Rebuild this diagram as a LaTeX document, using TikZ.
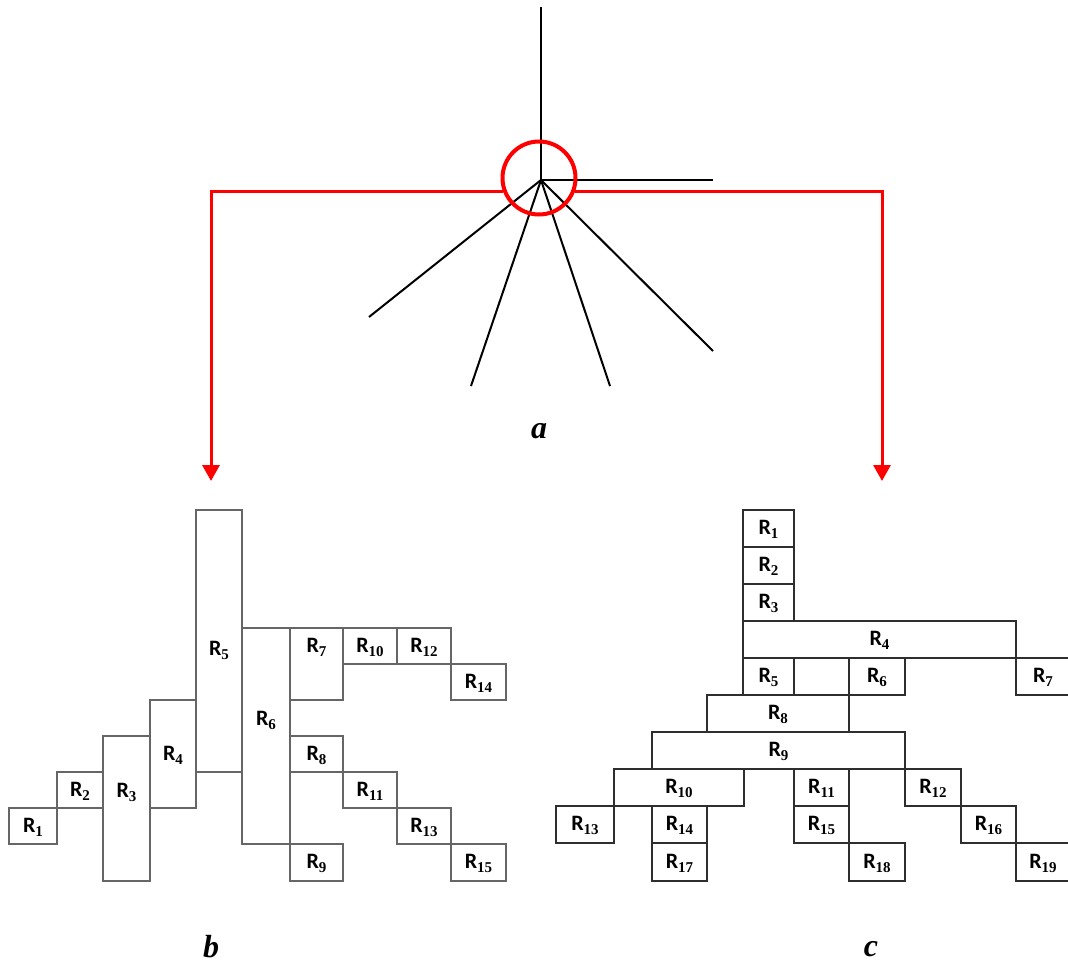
\documentclass[tikz,border=0pt]{standalone}
\usepackage{fontspec}
\setmainfont{Liberation Serif}
\newfontfamily\rfont{Carlito}
\usetikzlibrary{arrows.meta}
% region label: sans R with a serif subscript
\newcommand\rlab[1]{{\rfont\bfseries\fontsize{22}{22}\selectfont R}\raisebox{-4pt}{\bfseries\fontsize{15}{15}\selectfont #1}}
\begin{document}
\begin{tikzpicture}[x=1pt,y=-1pt,
  bline/.style={draw=black!60, line width=1.4pt},
  cline/.style={draw=black!82, line width=1.15pt},
  ray/.style={draw=black, line width=2pt},
  feed/.style={draw=red, line width=3pt, -{Triangle[length=16pt,width=17pt]}},
  lab/.style={inner sep=0pt},
  tag/.style={font=\fontsize{32}{32}\selectfont\bfseries\itshape, anchor=base, inner sep=0pt}]

\useasboundingbox (0,0) rectangle (1068,963);

% ---- star of branches ----
\coordinate (o) at (541,180);
\coordinate (r1) at (541,7);
\coordinate (r2) at (713,180);
\coordinate (r3) at (369,317);
\coordinate (r4) at (471,386);
\coordinate (r5) at (610,386);
\coordinate (r6) at (713,351);
\foreach \r in {r1,r2,r3,r4,r5,r6} \draw[ray] (o) -- (\r);

\node[draw=red, line width=4pt, circle, minimum size=73pt, inner sep=0pt] (hub) at (539,178) {};
\coordinate (tb) at (211,481);
\coordinate (tc) at (882,481);
\draw[feed] (hub.201) -| (tb);
\draw[feed] (hub.339) -| (tc);

\node[tag] (ta) at (539,438) {a};

% ---- layout b ----
\foreach \n/\xa/\ya/\xb/\yb/\lx/\ly in {
  1/9/808/57/844/33/827,
  2/57/772/103/808/80/791,
  3/103/736/150/881/126.5/792,
  4/150/700/196/808/173/755,
  5/196/510/242/772/219/650,
  6/242/628/290/844/266/720,
  7/290/628/343/700/316.5/647,
  10/343/628/397/664/370/647,
  12/397/628/451/664/424/647,
  14/451/664/506/700/478.5/683,
  8/290/736/343/772/316.5/755,
  11/343/772/397/808/370/791,
  13/397/808/451/844/424/827,
  15/451/844/506/881/478.5/863,
  9/290/844/343/881/316.5/863}
{
  \draw[bline] (\xa,\ya) rectangle (\xb,\yb);
  \node[lab] (b\n) at (\lx,\ly) {\rlab{\n}};
}
\node[tag] (tbl) at (211,957) {b};

% ---- layout c ----
\foreach \n/\xa/\ya/\xb/\yb in {
  1/743/510/794/547,
  2/743/547/794/584,
  3/743/584/794/621,
  4/743/621/1016/658,
  5/743/658/794/695,
  6/849/658/905/695,
  7/1016/658/1070/695,
  8/707/695/849/732,
  9/652/732/905/769,
  10/614/769/744/806,
  11/794/769/849/806,
  12/905/769/961/806,
  13/556/806/614/843,
  14/652/806/707/843,
  15/794/806/849/843,
  16/961/806/1016/843,
  17/652/843/707/881,
  18/849/843/905/881,
  19/1016/843/1070/881}
{
  \draw[cline] (\xa,\ya) rectangle (\xb,\yb);
  \node[lab] (c\n) at ({(\xa+\xb)/2},{(\ya+\yb)/2+1}) {\rlab{\n}};
}
\node[tag] (tcl) at (871,956) {c};

\end{tikzpicture}
\end{document}
